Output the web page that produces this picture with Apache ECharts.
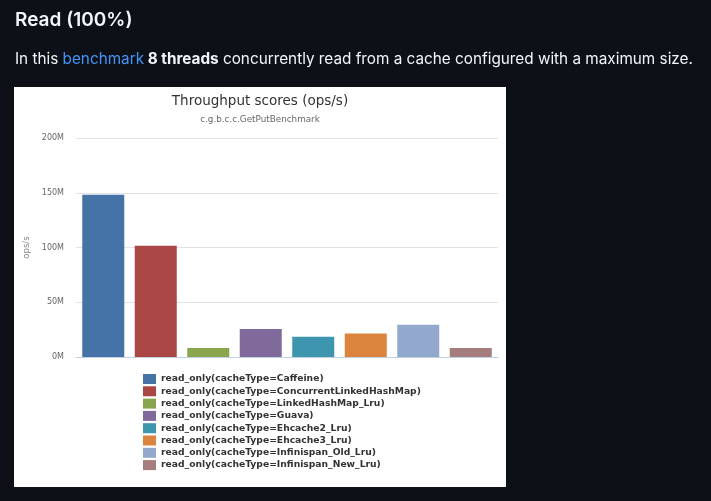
<!DOCTYPE html>
<html>
<head>
<meta charset="utf-8">
<script src="https://cdn.jsdelivr.net/npm/echarts@6/dist/echarts.min.js"></script>
<style>
  html, body { margin: 0; padding: 0; background: #0d1117; }
  #main { width: 711px; height: 501px; }
</style>
</head>
<body>
<div id="main"></div>
<script>
// values, in ops/s
const cacheTypes = ['Caffeine', 'ConcurrentLinkedHashMap', 'LinkedHashMap_Lru', 'Guava',
  'Ehcache2_Lru', 'Ehcache3_Lru', 'Infinispan_Old_Lru', 'Infinispan_New_Lru'];
const scores = [148.2e6, 101.5e6, 8.2e6, 25.5e6, 18.5e6, 21.5e6, 29.5e6, 8.2e6];
const colors = ['#4572A7', '#AA4643', '#89A54E', '#80699B', '#3D96AE', '#DB843D', '#92A8CD', '#A47D7C'];
const yTicks = [0, 50e6, 100e6, 150e6, 200e6];

const chart = echarts.init(document.getElementById('main'));

const series = cacheTypes.map((t, i) => ({
  name: 'read_only(cacheType=' + t + ')',
  type: 'bar',
  data: [scores[i]],
  barWidth: 42,
  barGap: '25%',
  itemStyle: { color: colors[i] }
}));

const txt = { color: '#f0f6fc', fontFamily: 'Inter', fontSize: 15.3, fontWeight: 'normal' };

chart.setOption({
  backgroundColor: '#0d1117',
  animation: false,
  graphic: [{
    type: 'rect', z: -10, silent: true,
    shape: { x: 14, y: 87, width: 492, height: 400 },
    style: { fill: '#ffffff' }
  }],
  title: [{
    text: 'Read (100%)',
    left: 15, top: 11, padding: 0,
    textStyle: { color: '#f0f6fc', fontFamily: 'Inter', fontWeight: 600, fontSize: 19 }
  }, {
    text: '{a|In this }{l|benchmark}{b| 8 threads}{a| concurrently read from a cache configured with a maximum size.}',
    left: 15, top: 52, padding: 0,
    textStyle: {
      fontWeight: 'normal',
      rich: {
        a: txt,
        l: Object.assign({}, txt, { color: '#4493f8' }),
        b: Object.assign({}, txt, { fontWeight: 'bold' })
      }
    }
  }, {
    text: 'Throughput scores (ops/s)',
    subtext: 'c.g.b.c.c.GetPutBenchmark',
    left: 260, top: 94, textAlign: 'center', itemGap: 7, padding: 0,
    textStyle: { color: '#333333', fontFamily: 'DejaVu Sans', fontWeight: 'normal', fontSize: 13.5 },
    subtextStyle: { color: '#666666', fontFamily: 'DejaVu Sans', fontSize: 8.8 }
  }],
  legend: {
    orient: 'vertical',
    left: 143, top: 374, padding: 0,
    itemWidth: 13, itemHeight: 10, itemGap: 2.3,
    icon: 'rect',
    selectedMode: false,
    textStyle: { color: '#333333', fontFamily: 'DejaVu Sans', fontWeight: 'bold', fontSize: 9.2, lineHeight: 10 }
  },
  grid: { left: 76, right: 213, top: 138, bottom: 144 },
  xAxis: {
    type: 'category',
    data: [''],
    axisLine: { lineStyle: { color: '#C0D0E0' } },
    axisTick: { alignWithLabel: true, length: 8, lineStyle: { color: '#C0D0E0' } },
    axisLabel: { show: false }
  },
  yAxis: {
    type: 'value',
    min: yTicks[0], max: yTicks[yTicks.length - 1], interval: 50e6,
    name: 'ops/s', nameLocation: 'middle', nameGap: 39,
    nameTextStyle: { color: '#888888', fontFamily: 'DejaVu Sans', fontSize: 8.5 },
    axisLabel: {
      color: '#666666', fontFamily: 'DejaVu Sans', fontSize: 8, margin: 12,
      formatter: v => (v / 1e6) + 'M'
    },
    splitLine: { lineStyle: { color: '#e3e3e3' } }
  },
  series: series
});
</script>
</body>
</html>
